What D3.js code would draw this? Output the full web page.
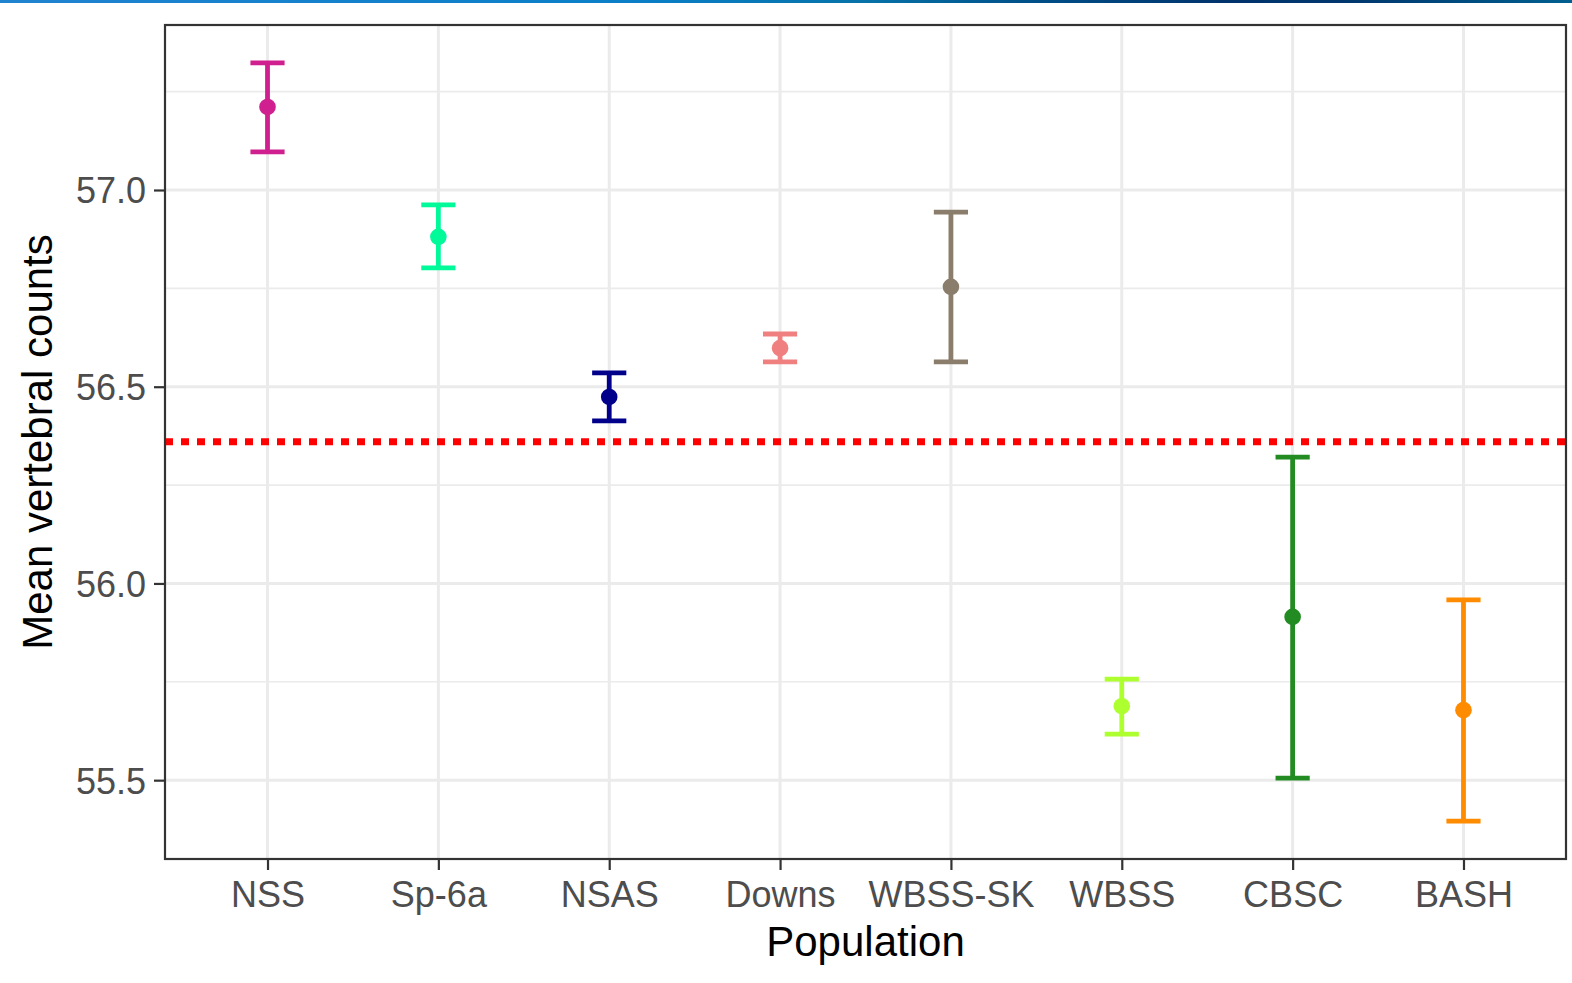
<!DOCTYPE html>
<html>
<head>
<meta charset="utf-8">
<script src="https://cdn.jsdelivr.net/npm/d3@7"></script>
<style>
  body { margin: 0; background: #ffffff; }
  svg { display: block; font-family: "Liberation Sans", Arial, sans-serif; }
  .tick-label { fill: #4d4d4d; font-size: 36px; }
  .axis-title { fill: #000000; font-size: 42px; }
</style>
</head>
<body>
<svg id="chart" width="1572" height="983"></svg>
<script>
const width = 1572;
const height = 983;

/* DATA */
const populations = ["NSS", "Sp-6a", "NSAS", "Downs", "WBSS-SK", "WBSS", "CBSC", "BASH"];
const means =  [57.211, 56.881, 56.474, 56.598, 56.754, 55.688, 55.915, 55.678];
const lowers = [57.097, 56.802, 56.413, 56.563, 56.563, 55.617, 55.505, 55.396];
const uppers = [57.323, 56.962, 56.535, 56.634, 56.944, 55.757, 56.321, 55.958];
const colors = ["#d02090", "#00fa9a", "#00008b", "#f08080", "#8b7d6b", "#adff2f", "#228b22", "#ff8c00"];
const refLine = 56.360;
const yTicks = [55.5, 56.0, 56.5, 57.0];
const yMinorTicks = [55.75, 56.25, 56.75, 57.25];

const data = populations.map((p, i) => ({
  pop: p, mean: means[i], lo: lowers[i], hi: uppers[i], color: colors[i]
}));

const margin = { top: 25, bottom: 124, left: 165, right: 6 };
const plotWidth = width - margin.left - margin.right;
const plotHeight = height - margin.top - margin.bottom;

const svg = d3.select("svg#chart");

/* top banner strip */
const defs = svg.append("defs");
const grad = defs.append("linearGradient").attr("id", "banner");
[[0, "#2083d0"], [0.4, "#0a7fc8"], [0.55, "#0672a8"], [0.66, "#004f88"],
 [0.78, "#00336c"], [0.86, "#00376e"], [1, "#006090"]].forEach(s => {
  grad.append("stop").attr("offset", s[0] * 100 + "%").attr("stop-color", s[1]);
});
svg.append("rect").attr("x", 0).attr("y", 0).attr("width", width).attr("height", 3)
  .attr("fill", "url(#banner)");

const plot = svg.append("g").attr("id", "plot")
  .attr("transform", translate(margin.left, margin.top));

/* SCALES */
// discrete axis with ggplot's 0.6 expansion on both sides
const step = plotWidth / (populations.length - 1 + 1.2);
const x = d3.scalePoint()
  .domain(populations)
  .range([0.6 * step, plotWidth - 0.6 * step]);

const yMin = d3.min(lowers), yMax = d3.max(uppers);
const pad = (yMax - yMin) * 0.05;
const y = d3.scaleLinear()
  .domain([yMin - pad, yMax + pad])
  .range([plotHeight, 0]);

/* GRID */
plot.append("rect").attr("width", plotWidth).attr("height", plotHeight).attr("fill", "#ffffff");

plot.selectAll("line.minor").data(yMinorTicks).enter().append("line")
  .attr("class", "minor")
  .attr("x1", 0).attr("x2", plotWidth)
  .attr("y1", d => y(d)).attr("y2", d => y(d))
  .attr("stroke", "#ebebeb").attr("stroke-width", 1.6);

plot.selectAll("line.major-y").data(yTicks).enter().append("line")
  .attr("class", "major-y")
  .attr("x1", 0).attr("x2", plotWidth)
  .attr("y1", d => y(d)).attr("y2", d => y(d))
  .attr("stroke", "#ebebeb").attr("stroke-width", 3);

plot.selectAll("line.major-x").data(populations).enter().append("line")
  .attr("class", "major-x")
  .attr("y1", 0).attr("y2", plotHeight)
  .attr("x1", d => x(d)).attr("x2", d => x(d))
  .attr("stroke", "#ebebeb").attr("stroke-width", 3);

/* REFERENCE LINE */
plot.append("line")
  .attr("x1", 0).attr("x2", plotWidth)
  .attr("y1", y(refLine)).attr("y2", y(refLine))
  .attr("stroke", "#ff0000").attr("stroke-width", 7)
  .attr("stroke-dasharray", "8,8");

/* ERROR BARS */
const capHalf = step * 0.1;
const bars = plot.selectAll("g.bar").data(data).enter().append("g")
  .attr("class", "bar")
  .attr("stroke", d => d.color)
  .attr("fill", d => d.color);

bars.append("line")
  .attr("x1", d => x(d.pop)).attr("x2", d => x(d.pop))
  .attr("y1", d => y(d.lo)).attr("y2", d => y(d.hi))
  .attr("stroke-width", 4.8);

bars.append("line")
  .attr("x1", d => x(d.pop) - capHalf).attr("x2", d => x(d.pop) + capHalf)
  .attr("y1", d => y(d.hi)).attr("y2", d => y(d.hi))
  .attr("stroke-width", 4.8);

bars.append("line")
  .attr("x1", d => x(d.pop) - capHalf).attr("x2", d => x(d.pop) + capHalf)
  .attr("y1", d => y(d.lo)).attr("y2", d => y(d.lo))
  .attr("stroke-width", 4.8);

bars.append("circle")
  .attr("cx", d => x(d.pop)).attr("cy", d => y(d.mean))
  .attr("r", 8.3).attr("stroke", "none");

/* PANEL BORDER */
plot.append("rect").attr("width", plotWidth).attr("height", plotHeight)
  .attr("fill", "none").attr("stroke", "#333333").attr("stroke-width", 2.2);

/* AXES */
const xAxis = d3.axisBottom(x).tickSize(11).tickPadding(11).tickSizeOuter(0);
const xGroup = plot.append("g").attr("transform", translate(0, plotHeight)).call(xAxis);

const yAxis = d3.axisLeft(y).tickValues(yTicks).tickFormat(d3.format(".1f"))
  .tickSize(11).tickPadding(8).tickSizeOuter(0);
const yGroup = plot.append("g").call(yAxis);

[xGroup, yGroup].forEach(g => {
  g.select(".domain").remove();
  g.selectAll(".tick line").attr("stroke", "#333333").attr("stroke-width", 2.2);
  g.selectAll(".tick text").attr("class", "tick-label").attr("font-family", null).attr("font-size", null);
});
xGroup.selectAll(".tick text").attr("dy", "0.71em");
yGroup.selectAll(".tick text").attr("dy", "0.36em");

drawTitles();

function drawTitles() {
  svg.append("text")
    .attr("class", "axis-title")
    .attr("text-anchor", "middle")
    .attr("x", margin.left + plotWidth / 2)
    .attr("y", 956)
    .text("Population");

  svg.append("text")
    .attr("class", "axis-title")
    .attr("text-anchor", "middle")
    .attr("transform", translate(52, margin.top + plotHeight / 2) + " rotate(-90)")
    .text("Mean vertebral counts");
}

function translate(x, y) {
  return 'translate(' + String(x) + ',' + String(y) + ')';
}
</script>
</body>
</html>
